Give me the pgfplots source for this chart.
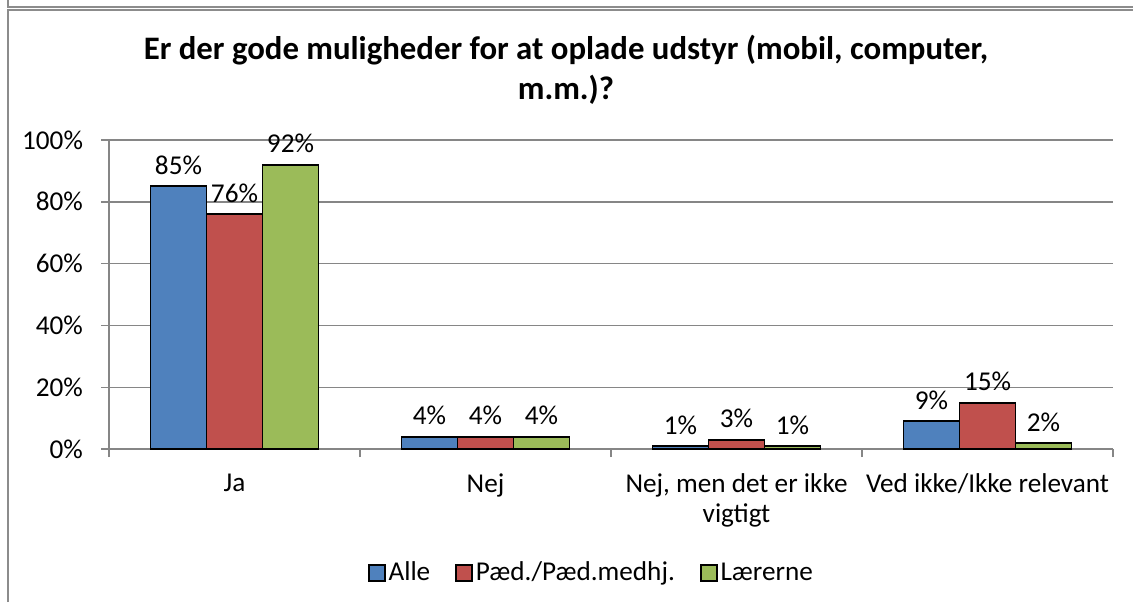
\documentclass[border=0pt]{standalone}
\usepackage{pgfplots}
\pgfplotsset{compat=1.18}
\usepackage{fontspec}
\setmainfont{Carlito}
\definecolor{cblue}{HTML}{4F81BD}
\definecolor{cred}{HTML}{C0504D}
\definecolor{cgreen}{HTML}{9BBB59}
\definecolor{gridc}{HTML}{868686}
\definecolor{framec}{HTML}{8C8C8C}
\begin{document}
\begin{tikzpicture}
\path[use as bounding box] (0,0) rectangle (566.5pt,301pt);
\draw[framec, line width=1pt] (4pt,301pt) -- (4pt,297.75pt) -- (566.5pt,297.75pt);
\draw[framec, line width=1pt] (4pt,0pt) -- (4pt,296pt) -- (566.5pt,296pt);
\node[font=\fontsize{16.4}{20}\selectfont\bfseries, align=center] at (283pt,266pt) {Er der gode muligheder for at oplade udstyr (mobil, computer,\\ m.m.)?};
\begin{axis}[
  at={(54.5pt,76.5pt)}, anchor=south west,
  scale only axis, width=502pt, height=154.5pt,
  /pgf/number format/assume math mode=true,
  ybar=0pt, bar width=28pt,
  xmin=-0.5, xmax=3.5, ymin=0, ymax=100,
  axis x line*=bottom, axis y line*=left,
  axis line style={draw=gridc, line width=0.7pt},
  tick align=outside,
  xtick={-0.5,0.5,1.5,2.5,3.5},
  xticklabels={},
  x tick style={draw=gridc, line width=0.7pt},
  extra x ticks={0,1,2,3},
  extra x tick labels={Ja, Nej, {Nej, men det er ikke\\vigtigt}, Ved ikke/Ikke relevant},
  extra x tick style={grid=none, major tick length=0pt,
    tick label style={align=center, font=\fontsize{13.6}{15}\selectfont, yshift=-9pt}},
  ytick={0,20,40,60,80,100},
  yticklabels={0\%,20\%,40\%,60\%,80\%,100\%},
  y tick label style={font=\fontsize{13.6}{15}\selectfont, xshift=-5.5pt},
  major tick length=4pt,
  y tick style={draw=gridc, line width=0.7pt},
  ymajorgrids, grid style={draw=gridc, line width=0.7pt},
  nodes near coords={\pgfmathprintnumber{\pgfplotspointmeta}\%},
  nodes near coords style={font=\fontsize{13.6}{15}\selectfont, yshift=2pt, text=black},
  legend style={at={(0.481,-0.401)}, anchor=center, legend columns=3, draw=none,
    font=\fontsize{13.6}{15}\selectfont,
    /tikz/every even column/.append style={column sep=11pt},
    nodes={inner sep=1.5pt}},
  legend image code/.code={\draw[#1,draw=black,line width=0.8pt] (0pt,-4pt) rectangle (8pt,4pt);},
  clip=false,
]
\addplot[fill=cblue, draw=black, line width=0.9pt] coordinates {(0,85) (1,4) (2,1) (3,9)};
\addplot[fill=cred, draw=black, line width=0.9pt] coordinates {(0,76) (1,4) (2,3) (3,15)};
\addplot[fill=cgreen, draw=black, line width=0.9pt] coordinates {(0,92) (1,4) (2,1) (3,2)};
\legend{Alle, Pæd./Pæd.medhj., Lærerne}
\end{axis}
\end{tikzpicture}
\end{document}
